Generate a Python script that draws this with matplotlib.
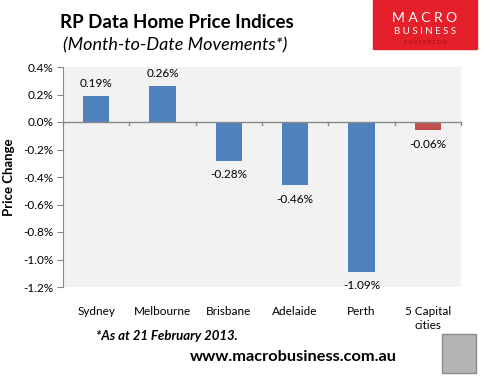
import numpy as np
import matplotlib.pyplot as plt
from matplotlib.patches import Rectangle

cities = ['Sydney', 'Melbourne', 'Brisbane', 'Adelaide', 'Perth', '5 Capital\ncities']
changes = [0.19, 0.26, -0.28, -0.46, -1.09, -0.06]
bar_colors = ['#4F81BD'] * 5 + ['#C0504D']
yticks = [0.4, 0.2, 0.0, -0.2, -0.4, -0.6, -0.8, -1.0, -1.2]

plt.rcParams['font.family'] = ['Lato', 'DejaVu Sans']

fig = plt.figure(figsize=(4.84, 3.77), dpi=100)
ax = fig.add_axes([63/484, 1-287/377, 398/484, 220/377])
ax.set_facecolor('#F2F2F2')

x = np.arange(len(cities))
ax.bar(x, changes, width=0.4, color=bar_colors, zorder=3)
ax.set_xlim(-0.5, len(cities) - 0.5)
ax.set_ylim(-1.2, 0.4)

for xi, v in zip(x, changes):
    off = 5 if v >= 0 else -6
    ax.annotate('%.2f%%' % v, (xi, v), xytext=(0, off), textcoords='offset points',
                ha='center', va='bottom' if v >= 0 else 'top', fontsize=8.5, color='#000000')

# zero line with category ticks
ax.axhline(0, color='#888888', lw=1, zorder=4)
for b in np.arange(-0.5, len(cities), 1.0):
    ax.plot([b, b], [0, -0.02], color='#888888', lw=1, zorder=4, clip_on=False)

for s in ['top', 'right', 'bottom']:
    ax.spines[s].set_visible(False)
ax.spines['left'].set_color('#888888')
ax.set_yticks(yticks)
ax.set_yticklabels(['%.1f%%' % t for t in yticks], fontsize=8.5)
ax.tick_params(axis='y', length=4, color='#888888', pad=3)
ax.set_xticks(x)
ax.set_xticklabels(cities, fontsize=8.5, linespacing=1.3)
ax.tick_params(axis='x', length=0, pad=14)
for lab in ax.get_xticklabels():
    lab.set_verticalalignment('top')

ax.set_ylabel('Price Change', fontsize=9.5, fontweight='bold', labelpad=6)

fig.text(177/484, 1-22/377, 'RP Data Home Price Indices', ha='center', va='center',
         fontsize=13.5, fontweight='bold')
fig.text(175/484, 1-45/377, '(Month-to-Date Movements*)', ha='center', va='center',
         fontsize=13, style='italic')

fig.text(96/484, 1-336/377, '*As at 21 February 2013.', ha='left', va='center',
         fontsize=9.5, style='italic', fontweight='bold')
fig.text(190/484, 1-357/377, 'www.macrobusiness.com.au', ha='left', va='center',
         fontsize=11.8, fontweight='bold')

# logo
fig.patches.append(Rectangle((373/484, 1-49/377), 104/484, 49/377, transform=fig.transFigure,
                             color='#E5202A', zorder=1))
fig.text(425/484, 1-18/377, 'M A C R O', ha='center', va='center', fontsize=10,
         color='white')
fig.text(425/484, 1-32/377, 'B U S I N E S S', ha='center', va='center', fontsize=7,
         color='white')
fig.text(425/484, 1-42/377, 'S U P E R B L O G', ha='center', va='center', fontsize=4,
         color='#9A1010')

# wolf badge placeholder
fig.patches.append(Rectangle((442/484, 1-373/377), 34/484, 39/377, transform=fig.transFigure,
                             facecolor='#B5B5B5', edgecolor='#8A8A8A', lw=1, zorder=1))

fig.savefig('out.png', dpi=100)
